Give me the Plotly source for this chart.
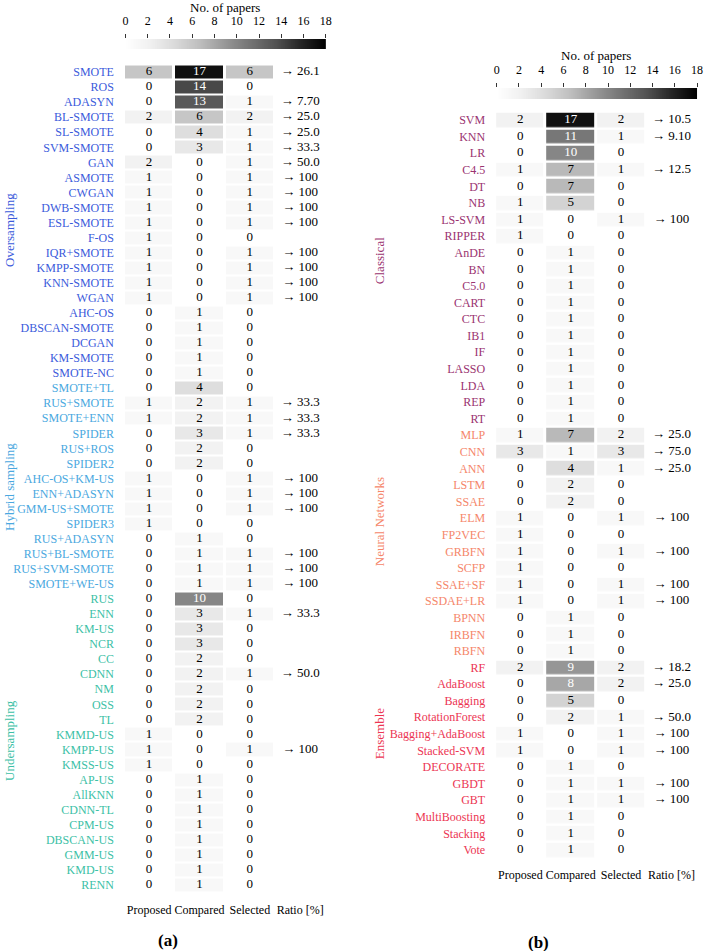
import numpy as np
import plotly.graph_objects as go

W, H = 709, 951
FONT = "Liberation Serif"

# -------------------- DATA (a) -------------------- #

groups_a = ["Oversampling", "Hybrid sampling", "Undersampling"]
group_sizes_a = [21, 14, 20]
group_colors_a = ["#3b5bdb", "#4aa8e0", "#3cbfa6"]

methods_a = [
    "SMOTE", "ROS", "ADASYN", "BL-SMOTE", "SL-SMOTE", "SVM-SMOTE", "GAN", "ASMOTE",
    "CWGAN", "DWB-SMOTE", "ESL-SMOTE", "F-OS", "IQR+SMOTE", "KMPP-SMOTE", "KNN-SMOTE",
    "WGAN", "AHC-OS", "DBSCAN-SMOTE", "DCGAN", "KM-SMOTE", "SMOTE-NC",
    "SMOTE+TL", "RUS+SMOTE", "SMOTE+ENN", "SPIDER", "RUS+ROS", "SPIDER2", "AHC-OS+KM-US",
    "ENN+ADASYN", "GMM-US+SMOTE", "SPIDER3", "RUS+ADASYN", "RUS+BL-SMOTE",
    "RUS+SVM-SMOTE", "SMOTE+WE-US",
    "RUS", "ENN", "KM-US", "NCR", "CC", "CDNN", "NM", "OSS", "TL", "KMMD-US", "KMPP-US",
    "KMSS-US", "AP-US", "AllKNN", "CDNN-TL", "CPM-US", "DBSCAN-US", "GMM-US", "KMD-US", "RENN",
]
proposed_a = [6, 0, 0, 2, 0, 0, 2, 1, 1, 1, 1, 1, 1, 1, 1, 1, 0, 0, 0, 0, 0,
              0, 1, 1, 0, 0, 0, 1, 1, 1, 1, 0, 0, 0, 0,
              0, 0, 0, 0, 0, 0, 0, 0, 0, 1, 1, 1, 0, 0, 0, 0, 0, 0, 0, 0]
compared_a = [17, 14, 13, 6, 4, 3, 0, 0, 0, 0, 0, 0, 0, 0, 0, 0, 1, 1, 1, 1, 1,
              4, 2, 2, 3, 2, 2, 0, 0, 0, 0, 1, 1, 1, 1,
              10, 3, 3, 3, 2, 2, 2, 2, 2, 0, 0, 0, 1, 1, 1, 1, 1, 1, 1, 1]
selected_a = [6, 0, 1, 2, 1, 1, 1, 1, 1, 1, 1, 0, 1, 1, 1, 1, 0, 0, 0, 0, 0,
              0, 1, 1, 1, 0, 0, 1, 1, 1, 0, 0, 1, 1, 1,
              0, 1, 0, 0, 0, 1, 0, 0, 0, 0, 1, 0, 0, 0, 0, 0, 0, 0, 0, 0]
ratio_a = ["26.1", "", "7.70", "25.0", "25.0", "33.3", "50.0", "100", "100", "100", "100", "",
           "100", "100", "100", "100", "", "", "", "", "",
           "", "33.3", "33.3", "33.3", "", "", "100", "100", "100", "", "", "100", "100", "100",
           "", "33.3", "", "", "", "50.0", "", "", "", "", "100", "", "", "", "", "", "", "", "", ""]

# -------------------- DATA (b) -------------------- #

groups_b = ["Classical", "Neural Networks", "Ensemble"]
group_sizes_b = [19, 14, 12]
group_colors_b = ["#9a3370", "#f5866a", "#ec3553"]

methods_b = [
    "SVM", "KNN", "LR", "C4.5", "DT", "NB", "LS-SVM", "RIPPER", "AnDE", "BN", "C5.0", "CART",
    "CTC", "IB1", "IF", "LASSO", "LDA", "REP", "RT",
    "MLP", "CNN", "ANN", "LSTM", "SSAE", "ELM", "FP2VEC", "GRBFN", "SCFP", "SSAE+SF",
    "SSDAE+LR", "BPNN", "IRBFN", "RBFN",
    "RF", "AdaBoost", "Bagging", "RotationForest", "Bagging+AdaBoost", "Stacked-SVM",
    "DECORATE", "GBDT", "GBT", "MultiBoosting", "Stacking", "Vote",
]
proposed_b = [2, 0, 0, 1, 0, 1, 1, 1, 0, 0, 0, 0, 0, 0, 0, 0, 0, 0, 0,
              1, 3, 0, 0, 0, 1, 1, 1, 1, 1, 1, 0, 0, 0,
              2, 0, 0, 0, 1, 1, 0, 0, 0, 0, 0, 0]
compared_b = [17, 11, 10, 7, 7, 5, 0, 0, 1, 1, 1, 1, 1, 1, 1, 1, 1, 1, 1,
              7, 1, 4, 2, 2, 0, 0, 0, 0, 0, 0, 1, 1, 1,
              9, 8, 5, 2, 0, 0, 1, 1, 1, 1, 1, 1]
selected_b = [2, 1, 0, 1, 0, 0, 1, 0, 0, 0, 0, 0, 0, 0, 0, 0, 0, 0, 0,
              2, 3, 1, 0, 0, 1, 0, 1, 0, 1, 1, 0, 0, 0,
              2, 2, 0, 1, 1, 1, 0, 1, 1, 0, 0, 0]
ratio_b = ["10.5", "9.10", "", "12.5", "", "", "100", "", "", "", "", "", "", "", "", "", "", "", "",
           "25.0", "75.0", "25.0", "", "", "100", "", "100", "", "100", "100", "", "", "",
           "18.2", "25.0", "", "50.0", "100", "100", "", "100", "100", "", "", ""]

columns = ["Proposed", "Compared", "Selected", "Ratio [%]"]
cbar_ticks = list(range(0, 19, 2))

# matplotlib "Greys"
greys = [[0, "#ffffff"], [0.125, "#f0f0f0"], [0.25, "#d9d9d9"], [0.375, "#bdbdbd"],
         [0.5, "#969696"], [0.625, "#737373"], [0.75, "#525252"], [0.875, "#252525"],
         [1, "#000000"]]


def xdom(a, b):
    return [a / W, b / W]


def ydom(top, bottom):
    return [1 - bottom / H, 1 - top / H]


fig = go.Figure()
annotations = []

panels = [
    dict(methods=methods_a, cols=[proposed_a, compared_a, selected_a], ratio=ratio_a,
         groups=groups_a, sizes=group_sizes_a, colors=group_colors_a,
         x=(122.5, 326.5), y=(64.5, 892.5), cb_y=(39, 49), title_y=8,
         group_x=6, group_y=[230, 487, 740], ygap=2, sub="(a)", sub_x=167, sub_y=940),
    dict(methods=methods_b, cols=[proposed_b, compared_b, selected_b], ratio=ratio_b,
         groups=groups_b, sizes=group_sizes_b, colors=group_colors_b,
         x=(498.5, 702.5), y=(111.7, 858.3), cb_y=(88, 99), title_y=56,
         group_x=381, group_y=[261, 522, 734], ygap=2.5, sub="(b)", sub_x=542, sub_y=942),
]

for i, p in enumerate(panels):
    n = len(p["methods"])
    xa = "x" if i == 0 else "x3"
    ya = "y" if i == 0 else "y3"
    xa_cb = "x2" if i == 0 else "x4"
    ya_cb = "y2" if i == 0 else "y4"

    # label colours per row
    row_colors = []
    for g, s in enumerate(p["sizes"]):
        row_colors += [p["colors"][g]] * s
    ticktext = [f'<span style="color:{c}">{m}</span>' for m, c in zip(p["methods"], row_colors)]

    z = np.array(p["cols"]).T
    fig.add_trace(go.Heatmap(
        z=z, x=[0, 1, 2], y=list(range(n)),
        colorscale=greys, zmin=0, zmax=18, showscale=False,
        xgap=3, ygap=p["ygap"], hoverinfo="skip",
        xaxis=xa, yaxis=ya,
    ))

    # numbers in cells
    tx, ty, tt, tc = [], [], [], []
    for r in range(n):
        for c in range(3):
            v = int(z[r, c])
            tx.append(c)
            ty.append(r)
            tt.append(str(v))
            tc.append("white" if v >= 8 else "black")
    fig.add_trace(go.Scatter(
        x=tx, y=ty, text=tt, mode="text",
        textfont=dict(family=FONT, size=13, color=tc),
        hoverinfo="skip", showlegend=False, xaxis=xa, yaxis=ya,
    ))

    # ratio column
    rr = [r for r in range(n) if p["ratio"][r]]
    fig.add_trace(go.Scatter(
        x=[3] * len(rr), y=rr, text=["\u2192 " + p["ratio"][r] for r in rr], mode="text",
        textfont=dict(family=FONT, size=13, color="black"),
        hoverinfo="skip", showlegend=False, xaxis=xa, yaxis=ya,
    ))

    # colour bar
    grad = np.linspace(0, 18, 300)
    fig.add_trace(go.Heatmap(
        z=[grad], x=grad, y=[0], colorscale=greys, zmin=0, zmax=18,
        showscale=False, hoverinfo="skip", xaxis=xa_cb, yaxis=ya_cb,
    ))

    sfx = "" if i == 0 else "3"
    sfx_cb = "2" if i == 0 else "4"
    fig.update_layout({
        "xaxis" + sfx: dict(domain=xdom(*p["x"]), range=[-0.5, 3.5], tickvals=[0, 1, 2, 3],
                            ticktext=columns, showgrid=False, zeroline=False, ticks="",
                            ticklabelstandoff=8,
                            tickfont=dict(family=FONT, size=12, color="black"),
                            anchor=ya, fixedrange=True),
        "yaxis" + sfx: dict(domain=ydom(*p["y"]), range=[n - 0.5, -0.5], tickvals=list(range(n)),
                            ticktext=ticktext, showgrid=False, zeroline=False, ticks="",
                            ticklabelstandoff=9,
                            tickfont=dict(family=FONT, size=12), anchor=xa, fixedrange=True),
        "xaxis" + sfx_cb: dict(domain=xdom(p["x"][0] + 1.5, p["x"][1] + 0.5), range=[0, 18],
                               side="top", tickvals=cbar_ticks, ticks="outside", ticklen=4,
                               tickcolor="#333", showgrid=False, zeroline=False,
                               ticklabelstandoff=4,
                               tickfont=dict(family=FONT, size=12, color="black"),
                               anchor=ya_cb, fixedrange=True),
        "yaxis" + sfx_cb: dict(domain=ydom(*p["cb_y"]), range=[-0.5, 0.5], visible=False,
                               anchor=xa_cb, fixedrange=True),
    })

    annotations.append(dict(
        text="No. of papers", x=(p["x"][0] + p["x"][1]) / 2 / W, y=1 - p["title_y"] / H,
        xref="paper", yref="paper", showarrow=False, xanchor="center", yanchor="middle",
        font=dict(family=FONT, size=13, color="black"),
    ))

    for g in range(len(p["groups"])):
        annotations.append(dict(
            text=p["groups"][g], x=p["group_x"] / W, y=1 - p["group_y"][g] / H,
            xref="paper", yref="paper", showarrow=False, textangle=-90,
            xanchor="center", yanchor="middle",
            font=dict(family=FONT, size=13, color=p["colors"][g]),
        ))

    annotations.append(dict(
        text="<b>" + p["sub"] + "</b>", x=p["sub_x"] / W,
        y=1 - p["sub_y"] / H, xref="paper", yref="paper", showarrow=False,
        xanchor="center", yanchor="middle", font=dict(family=FONT, size=17, color="black"),
    ))

fig.update_layout(
    width=W, height=H,
    margin=dict(l=0, r=0, t=0, b=0),
    paper_bgcolor="white", plot_bgcolor="white",
    font=dict(family=FONT, color="black"),
    showlegend=False,
    annotations=annotations,
)

fig.write_html("out.html", config={"displayModeBar": False},
               post_script="document.body.style.margin='0px';")
